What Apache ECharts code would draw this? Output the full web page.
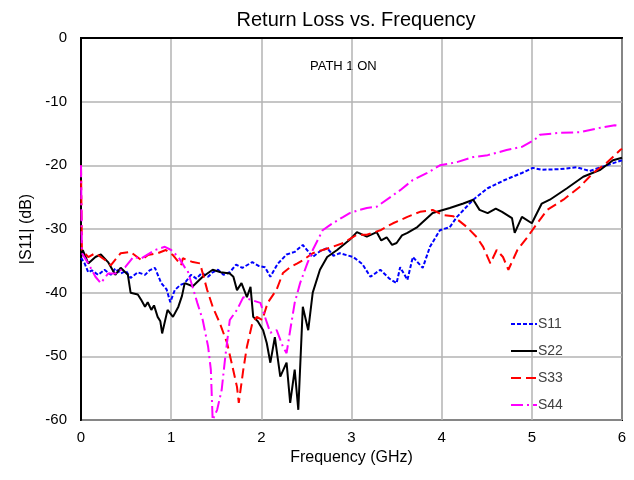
<!DOCTYPE html>
<html>
<head>
<meta charset="utf-8">
<script src="https://cdn.jsdelivr.net/npm/echarts@6/dist/echarts.min.js"></script>
<style>
html, body { margin: 0; padding: 0; background: #fff; }
#main { width: 634px; height: 480px; }
</style>
</head>
<body>
<div id="main"></div>
<script>
// frequency (GHz) and |S11| (dB)
var s11Freq = [0, 0.04, 0.08, 0.12, 0.19, 0.26, 0.33, 0.38, 0.44, 0.50, 0.55, 0.63, 0.71, 0.76, 0.82, 0.89, 0.95, 0.99, 1.04, 1.10, 1.15, 1.22, 1.28, 1.34, 1.41, 1.46, 1.52, 1.58, 1.65, 1.72, 1.79, 1.90, 1.97, 2.04, 2.10, 2.18, 2.28, 2.37, 2.46, 2.57, 2.65, 2.73, 2.80, 2.87, 3.02, 3.12, 3.21, 3.32, 3.42, 3.50, 3.54, 3.62, 3.68, 3.79, 3.87, 3.98, 4.09, 4.17, 4.35, 4.51, 4.70, 4.89, 5.01, 5.11, 5.31, 5.50, 5.64, 5.83, 6.0];
var s11Db = [-34.5, -35.4, -36.8, -36.5, -37.2, -36.4, -37.2, -36.2, -37, -36.6, -37.7, -36.8, -37.2, -36.5, -36.1, -38.5, -39.5, -41.5, -39.6, -38.8, -38.5, -37.2, -37.8, -36.9, -37.5, -36.8, -36.4, -37.2, -36.8, -35.6, -36.1, -35.2, -35.8, -36, -37.5, -35.5, -34, -33.6, -32.5, -34.4, -33.5, -33, -34.2, -33.8, -34.4, -35.5, -37.5, -36.4, -37.8, -38.5, -36, -38, -34.4, -36.1, -32.8, -30.2, -29.7, -28.1, -25.4, -23.6, -22.3, -21.2, -20.4, -20.7, -20.6, -20.3, -20.9, -20, -19.2];

var s22Freq = [0, 0.02, 0.08, 0.16, 0.22, 0.30, 0.38, 0.44, 0.52, 0.55, 0.63, 0.67, 0.71, 0.74, 0.78, 0.81, 0.85, 0.88, 0.90, 0.96, 1.02, 1.08, 1.12, 1.15, 1.24, 1.35, 1.46, 1.55, 1.65, 1.69, 1.73, 1.78, 1.84, 1.88, 1.91, 1.96, 2.02, 2.06, 2.10, 2.15, 2.21, 2.28, 2.32, 2.37, 2.41, 2.46, 2.52, 2.57, 2.65, 2.73, 2.84, 2.98, 3.06, 3.17, 3.28, 3.33, 3.39, 3.45, 3.50, 3.56, 3.62, 3.73, 3.90, 4.09, 4.24, 4.35, 4.42, 4.51, 4.60, 4.67, 4.78, 4.81, 4.89, 5.00, 5.11, 5.20, 5.39, 5.57, 5.76, 5.90, 6.0];
var s22Db = [-34.5, -33.3, -35.4, -34.4, -34, -35.2, -37.2, -36.1, -37.2, -40, -40.3, -41.2, -42.2, -41.5, -42.7, -42, -43.8, -44.5, -46.4, -42.7, -43.8, -42.2, -40.5, -38.5, -39, -37.5, -36.4, -36.8, -37, -37.5, -39.6, -38.5, -40.7, -39.1, -43.8, -44.5, -45.9, -47.9, -51, -47, -53.2, -51, -57.3, -52.1, -58.4, -42.2, -45.9, -40, -36.4, -34.4, -33.3, -31.7, -30.5, -31.2, -30.5, -31.8, -31.3, -32.5, -32.2, -31, -30.6, -29.7, -27.5, -26.7, -26, -25.4, -27, -27.5, -26.8, -27.3, -28.3, -30.6, -28.1, -29.1, -26, -25.4, -23.6, -21.8, -20.7, -19.2, -18.8];

var s33Freq = [0, 0.01, 0.08, 0.16, 0.27, 0.33, 0.44, 0.55, 0.67, 0.74, 0.85, 0.94, 1.02, 1.11, 1.13, 1.24, 1.32, 1.40, 1.46, 1.54, 1.62, 1.67, 1.73, 1.75, 1.80, 1.84, 1.90, 1.95, 2.01, 2.07, 2.17, 2.24, 2.32, 2.40, 2.46, 2.57, 2.68, 2.79, 2.91, 3.06, 3.17, 3.32, 3.46, 3.62, 3.76, 3.90, 4.01, 4.13, 4.28, 4.39, 4.46, 4.54, 4.61, 4.68, 4.74, 4.84, 4.95, 5.06, 5.17, 5.35, 5.53, 5.68, 5.83, 5.98, 6.0];
var s33Db = [-20, -33.3, -34.4, -33.8, -34.9, -35.7, -33.8, -33.6, -34.9, -34.1, -33.8, -33.3, -34.1, -35.7, -34.6, -35.2, -35.4, -39.6, -42.2, -44.8, -47.9, -51, -54.8, -57.3, -52.1, -48.5, -44.8, -43.8, -44.3, -41.6, -39.5, -36.9, -36, -35.4, -34.9, -33.8, -33.3, -32.8, -32.2, -30.9, -30.9, -30.2, -29.1, -28.1, -27.3, -27, -27.8, -28, -29.7, -31.3, -32.8, -35.4, -33.3, -34.4, -36.4, -33.3, -31.3, -29.1, -27, -25.4, -23.4, -21.2, -19.6, -17.6, -17.4];

var s44Freq = [0, 0.01, 0.08, 0.16, 0.22, 0.30, 0.38, 0.49, 0.58, 0.67, 0.82, 0.93, 1.00, 1.08, 1.15, 1.18, 1.29, 1.35, 1.41, 1.44, 1.46, 1.51, 1.56, 1.60, 1.65, 1.73, 1.80, 1.90, 1.99, 2.04, 2.10, 2.17, 2.24, 2.28, 2.32, 2.37, 2.43, 2.51, 2.57, 2.68, 2.79, 2.91, 2.98, 3.09, 3.17, 3.28, 3.54, 3.68, 3.84, 3.98, 4.17, 4.35, 4.51, 4.72, 4.89, 5.03, 5.09, 5.31, 5.53, 5.76, 5.92, 5.96];
var s44Db = [-20, -33.8, -35.4, -37.5, -38.5, -37, -37, -36, -34.4, -34.6, -33.3, -32.8, -33.3, -34.4, -36, -36.4, -41.6, -44.3, -48.5, -52.1, -60, -58.4, -55.3, -50.1, -44.3, -42.7, -40.7, -41.2, -41.6, -43.8, -46.3, -45.9, -48.5, -49.5, -45.9, -41.6, -38.5, -35.4, -33.3, -30.2, -29.1, -28.1, -27.5, -27, -26.7, -26.5, -23.9, -22.3, -21.2, -20, -19.5, -18.7, -18.4, -17.6, -17.1, -16, -15.2, -14.9, -14.8, -14.1, -13.7, -13.8];

var seriesNames = ['S11', 'S22', 'S33', 'S44'];

function pairs(fx, dy) {
  var out = [];
  for (var i = 0; i < fx.length; i++) out.push([fx[i], dy[i]]);
  return out;
}

var myChart = echarts.init(document.getElementById('main'));
var font = 'Liberation Sans, Arial, sans-serif';

var option = {
  backgroundColor: '#fff',
  animation: false,
  title: {
    text: 'Return Loss vs. Frequency',
    left: 351, top: 5, textAlign: 'center',
    textStyle: { fontFamily: font, fontSize: 20, fontWeight: 'normal', color: '#000' }
  },
  graphic: [{
    type: 'text', left: 310, top: 60,
    style: { text: 'PATH 1 ON', fontFamily: font, fontSize: 13, fill: '#000' }
  }],
  legend: {
    orient: 'vertical', left: 505, top: 312,
    itemWidth: 26, itemHeight: 10, itemGap: 13,
    data: seriesNames,
    itemStyle: { opacity: 0 },
    textStyle: { fontFamily: font, fontSize: 14, color: '#404040', padding: [0, 0, 0, -4] }
  },
  grid: {
    left: 81, right: 12, top: 38, bottom: 60,
    show: true, borderColor: '#000', borderWidth: 2
  },
  xAxis: {
    type: 'value', min: 0, max: 6, interval: 1,
    name: 'Frequency (GHz)', nameLocation: 'middle', nameGap: 28,
    nameTextStyle: { fontFamily: font, fontSize: 16, color: '#000' },
    axisLine: { show: true, lineStyle: { color: '#000', width: 2 } },
    axisTick: { show: false },
    axisLabel: { fontFamily: font, fontSize: 15, color: '#000', margin: 10 },
    splitLine: { show: true, lineStyle: { color: '#b3b3b3', width: 1.5 } }
  },
  yAxis: {
    type: 'value', min: -60, max: 0, interval: 10,
    name: '|S11| (dB)', nameLocation: 'middle', nameGap: 46,
    nameTextStyle: { fontFamily: font, fontSize: 16, color: '#000' },
    axisLine: { show: true, lineStyle: { color: '#000', width: 2 } },
    axisTick: { show: false },
    axisLabel: { fontFamily: font, fontSize: 15, color: '#000', margin: 14 },
    splitLine: { show: true, lineStyle: { color: '#b3b3b3', width: 1.5 } }
  },
  series: [
    { name: 'S11', type: 'line', symbol: 'none', data: pairs(s11Freq, s11Db),
      color: '#0000ff', lineStyle: { color: '#0000ff', width: 2, type: [4, 2] } },
    { name: 'S22', type: 'line', symbol: 'none', data: pairs(s22Freq, s22Db),
      color: '#000000', lineStyle: { color: '#000000', width: 2 } },
    { name: 'S33', type: 'line', symbol: 'none', data: pairs(s33Freq, s33Db),
      color: '#ff0000', lineStyle: { color: '#ff0000', width: 2, type: [10, 5] } },
    { name: 'S44', type: 'line', symbol: 'none', data: pairs(s44Freq, s44Db),
      color: '#ff00ff', lineStyle: { color: '#ff00ff', width: 2, type: [12, 4, 2, 4] } }
  ]
};

myChart.setOption(option, true);
</script>
</body>
</html>
